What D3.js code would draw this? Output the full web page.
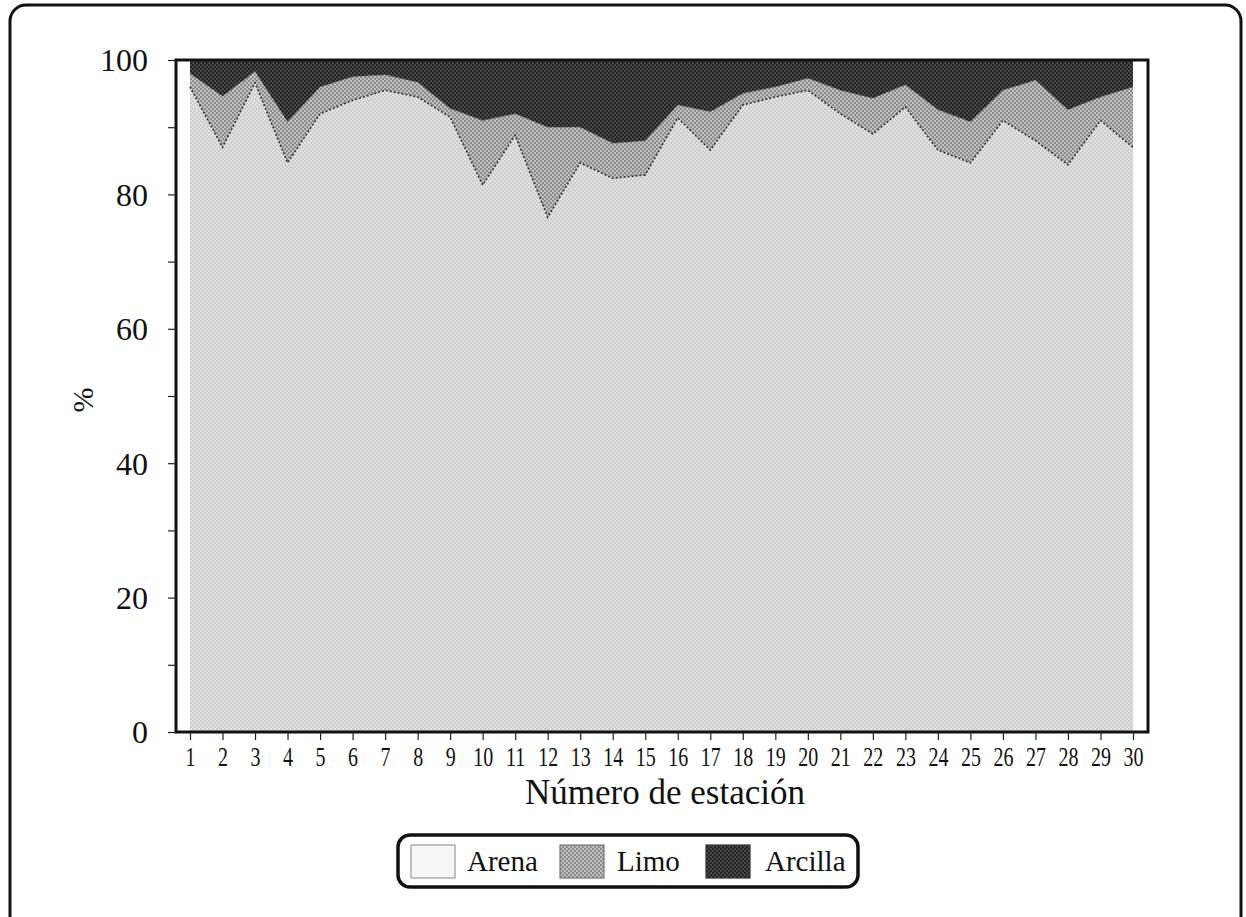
<!DOCTYPE html>
<html>
<head>
<meta charset="utf-8">
<script src="https://cdn.jsdelivr.net/npm/d3@7"></script>
<style>
  body { margin: 0; background: #fff; }
  svg { display: block; }
</style>
</head>
<body>
<svg id="chart" width="1246" height="917"></svg>
<script>
// station numbers and % of each fraction
const stations = d3.range(1, 31);
const arena   = [96, 87, 96.6, 84.7, 92, 94, 95.5, 94.5, 91.5, 81.4, 88.8, 76.6, 84.7, 82.4, 82.9, 91.4, 86.6, 93.3, 94.5, 95.5, 92, 89, 93, 86.6, 84.7, 91, 88, 84.4, 91, 87];
const limo    = [2, 7.6, 1.7, 6.1, 4, 3.5, 2.3, 2.2, 1.3, 9.6, 3.2, 13.4, 5.3, 5.2, 5.1, 1.9, 5.7, 1.7, 1.5, 1.8, 3.5, 5.3, 3.3, 6, 6.1, 4.5, 9, 8.2, 3.5, 9];
const arcilla = [2, 5.4, 1.7, 9.2, 4, 2.5, 2.2, 3.3, 7.2, 9, 8, 10, 10, 12.4, 12, 6.7, 7.7, 5, 4, 2.7, 4.5, 5.7, 3.7, 7.4, 9.2, 4.5, 3, 7.4, 5.5, 4];
const yTicks = [0, 20, 40, 60, 80, 100];
const keys = ["Arena", "Limo", "Arcilla"];

const table = stations.map((s, i) => ({ station: s, Arena: arena[i], Limo: limo[i], Arcilla: arcilla[i] }));

const serif = "'Liberation Serif', 'DejaVu Serif', serif";
const svg = d3.select("#chart");

// outer rounded frame (bottom runs off the picture)
svg.append("rect")
    .attr("x", 10).attr("y", 5)
    .attr("width", 1231).attr("height", 940)
    .attr("rx", 16)
    .attr("fill", "none")
    .attr("stroke", "#111")
    .attr("stroke-width", 3);

// halftone-ish patterns
const defs = svg.append("defs");
function dotPattern(id, bg, dot, r) {
    const p = defs.append("pattern")
        .attr("id", id)
        .attr("patternUnits", "userSpaceOnUse")
        .attr("width", 4).attr("height", 4);
    p.append("rect").attr("width", 4).attr("height", 4).attr("fill", bg);
    p.append("circle").attr("cx", 1).attr("cy", 1).attr("r", r).attr("fill", dot);
    p.append("circle").attr("cx", 3).attr("cy", 3).attr("r", r).attr("fill", dot);
}
dotPattern("patArena", "#e2e2e2", "#c2c2c2", 0.9);
dotPattern("patLimo", "#c0c0c0", "#7a7a7a", 1.0);
dotPattern("patArcilla", "#4a4a4a", "#1c1c1c", 1.1);
const fills = { Arena: "url(#patArena)", Limo: "url(#patLimo)", Arcilla: "url(#patArcilla)" };

// plot box
const box = { left: 176, top: 60, right: 1148, bottom: 732 };

const x = d3.scaleLinear().domain([1, 30]).range([190, 1133]);
const y = d3.scaleLinear().domain([0, 100]).range([box.bottom, box.top]);

const series = d3.stack().keys(keys)(table);

const area = d3.area()
    .x(d => x(d.data.station))
    .y0(d => y(d[0]))
    .y1(d => y(d[1]));

svg.append("g")
    .selectAll("path")
    .data(series)
    .join("path")
    .attr("d", area)
    .attr("fill", d => fills[d.key]);

// dark dotted edges along the layer tops
const topLine = d3.line()
    .x(d => x(d.data.station))
    .y(d => y(d[1]));
svg.append("path")
    .attr("d", topLine(series[0]))
    .attr("fill", "none")
    .attr("stroke", "#333")
    .attr("stroke-width", 1.6)
    .attr("stroke-dasharray", "2,2");
svg.append("path")
    .attr("d", topLine(series[1]))
    .attr("fill", "none")
    .attr("stroke", "#555")
    .attr("stroke-width", 1)
    .attr("stroke-dasharray", "2,3");

// plot frame
svg.append("rect")
    .attr("x", box.left).attr("y", box.top)
    .attr("width", box.right - box.left)
    .attr("height", box.bottom - box.top)
    .attr("fill", "none")
    .attr("stroke", "#111")
    .attr("stroke-width", 3);

// y axis
const yAxis = svg.append("g")
    .attr("transform", "translate(" + box.left + ",0)")
    .call(d3.axisLeft(y).tickValues(d3.range(0, 101, 10)).tickSize(8).tickFormat(d => yTicks.includes(d) ? d : ""));
yAxis.select(".domain").remove();
yAxis.selectAll("line").attr("stroke", "#222").attr("stroke-width", 1.2);
yAxis.selectAll("text")
    .attr("x", -28)
    .attr("dy", "0.34em")
    .style("font-family", serif)
    .style("font-size", "32px")
    .attr("fill", "#111");

// x axis
const xAxis = svg.append("g")
    .attr("transform", "translate(0," + box.bottom + ")")
    .call(d3.axisBottom(x).tickValues(stations).tickSize(8).tickFormat(d3.format("d")));
xAxis.select(".domain").remove();
xAxis.selectAll("line").attr("stroke", "#222").attr("stroke-width", 1.2);
xAxis.selectAll("text")
    .attr("y", 34)
    .attr("dy", null)
    .attr("transform", "scale(0.74,1)")
    .style("font-family", serif)
    .style("font-size", "27px")
    .attr("fill", "#111");

// axis titles
svg.append("text")
    .attr("x", 665).attr("y", 804)
    .attr("text-anchor", "middle")
    .style("font-family", serif)
    .style("font-size", "35px")
    .attr("fill", "#111")
    .text("Número de estación");

svg.append("text")
    .attr("transform", "translate(93,400) rotate(-90)")
    .attr("text-anchor", "middle")
    .style("font-family", serif)
    .style("font-size", "30px")
    .attr("fill", "#111")
    .text("%");

// legend
const legend = svg.append("g");
legend.append("rect")
    .attr("x", 398).attr("y", 835)
    .attr("width", 460).attr("height", 52)
    .attr("rx", 12)
    .attr("fill", "#fff")
    .attr("stroke", "#111")
    .attr("stroke-width", 3.5);

const legendItems = [
    { key: "Arena", sx: 411, tx: 467, fill: "#f6f6f6", stroke: "#999" },
    { key: "Limo", sx: 560, tx: 617, fill: fills.Limo, stroke: "#777" },
    { key: "Arcilla", sx: 706, tx: 765, fill: fills.Arcilla, stroke: "#333" }
];
legendItems.forEach(it => {
    legend.append("rect")
        .attr("x", it.sx).attr("y", 845)
        .attr("width", 44).attr("height", 33)
        .attr("fill", it.fill)
        .attr("stroke", it.stroke)
        .attr("stroke-width", 1.2);
    legend.append("text")
        .attr("x", it.tx).attr("y", 871)
        .style("font-family", serif)
        .style("font-size", "29px")
        .attr("fill", "#111")
        .text(it.key);
});
</script>
</body>
</html>
